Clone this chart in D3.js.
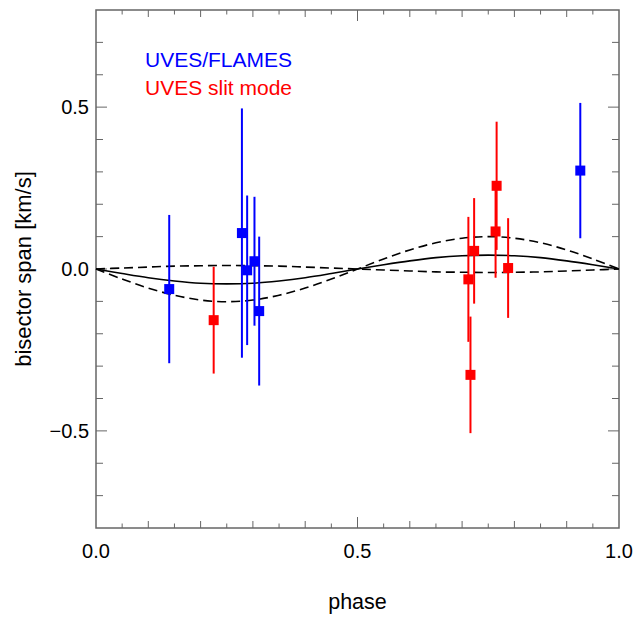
<!DOCTYPE html>
<html>
<head>
<meta charset="utf-8">
<script src="https://cdn.jsdelivr.net/npm/d3@7"></script>
<style>
  body { margin: 0; background: #fff; }
  svg { font-family: "Liberation Sans", Arial, Helvetica, sans-serif; }
</style>
</head>
<body>
<div id="chart"></div>
<script>
// UVES/FLAMES points (blue)
var flamesPhase = [0.140, 0.279, 0.289, 0.303, 0.312, 0.926];
var flamesSpan  = [-0.062, 0.111, -0.004, 0.024, -0.130, 0.304];
var flamesErr   = [0.229, 0.385, 0.231, 0.199, 0.230, 0.209];

// UVES slit mode points (red)
var slitPhase = [0.225, 0.712, 0.716, 0.723, 0.764, 0.766, 0.788];
var slitSpan  = [-0.158, -0.032, -0.327, 0.056, 0.116, 0.257, 0.003];
var slitErr   = [0.165, 0.193, 0.180, 0.163, 0.143, 0.198, 0.154];

// model curves, every 0.05 in phase
var curvePhase = [0, 0.05, 0.1, 0.15, 0.2, 0.25, 0.3, 0.35, 0.4, 0.45, 0.5,
                  0.55, 0.6, 0.65, 0.7, 0.75, 0.8, 0.85, 0.9, 0.95, 1.0];
var modelMid   = [0, -0.014, -0.027, -0.037, -0.044, -0.046, -0.044, -0.037, -0.027, -0.014, 0,
                  0.013, 0.025, 0.035, 0.041, 0.043, 0.041, 0.035, 0.025, 0.013, 0];
var modelHigh  = [0, -0.031, -0.059, -0.081, -0.096, -0.101, -0.096, -0.081, -0.059, -0.031, 0,
                  0.031, 0.059, 0.081, 0.095, 0.100, 0.095, 0.081, 0.059, 0.031, 0];
var modelLow   = [0, 0.003, 0.006, 0.009, 0.010, 0.011, 0.010, 0.009, 0.006, 0.003, 0,
                  -0.003, -0.006, -0.009, -0.010, -0.011, -0.010, -0.009, -0.006, -0.003, 0];

var xTickLabels = ["0.0", "0.5", "1.0"];
var yTickLabels = ["\u22120.5", "0.0", "0.5"];

function init() {
    var w = 643, h = 617;
    var margin = { top: 10, right: 24, bottom: 89, left: 96 };
    var innerWidth = w - margin.left - margin.right;
    var innerHeight = h - margin.top - margin.bottom;

    var svg = d3.select("#chart").append("svg")
        .attr("width", w)
        .attr("height", h);

    var g = svg.append("g")
        .attr("transform", `translate(${margin.left}, ${margin.top})`);

    var xScale = d3.scaleLinear().domain([0, 1]).range([0, innerWidth]);
    var yScale = d3.scaleLinear().domain([-0.8, 0.8]).range([innerHeight, 0]);

    var axisColor = "#666";

    // ticks on all four sides, drawn inward
    var xTicks = d3.range(1, 20).map(i => i * 0.05);
    var yTicks = d3.range(-7, 8).map(i => i * 0.1);

    function xLen(v) {
        var k = Math.round(v * 20);
        if (k % 10 === 0) return 11;
        if (k % 2 === 0) return 7;
        return 4.5;
    }
    function yLen(v) {
        var k = Math.round(v * 10);
        return k % 5 === 0 ? 11 : 7;
    }

    var ticks = g.append("g").attr("stroke", axisColor).attr("stroke-width", 1);
    xTicks.forEach(function (v) {
        var x = xScale(v);
        ticks.append("line").attr("x1", x).attr("x2", x)
            .attr("y1", innerHeight).attr("y2", innerHeight - xLen(v));
        ticks.append("line").attr("x1", x).attr("x2", x)
            .attr("y1", 0).attr("y2", xLen(v));
    });
    yTicks.forEach(function (v) {
        var y = yScale(v);
        ticks.append("line").attr("x1", 0).attr("x2", yLen(v))
            .attr("y1", y).attr("y2", y);
        ticks.append("line").attr("x1", innerWidth).attr("x2", innerWidth - yLen(v))
            .attr("y1", y).attr("y2", y);
    });

    // frame
    g.append("rect")
        .attr("x", 0).attr("y", 0)
        .attr("width", innerWidth).attr("height", innerHeight)
        .attr("fill", "none")
        .attr("stroke", axisColor)
        .attr("stroke-width", 1.5);

    // tick labels
    [0, 0.5, 1].forEach(function (v, i) {
        g.append("text")
            .attr("x", xScale(v))
            .attr("y", innerHeight + 30)
            .attr("text-anchor", "middle")
            .style("font-size", "20px")
            .text(xTickLabels[i]);
    });
    [-0.5, 0, 0.5].forEach(function (v, i) {
        g.append("text")
            .attr("x", -7)
            .attr("y", yScale(v) + 7)
            .attr("text-anchor", "end")
            .style("font-size", "20px")
            .text(yTickLabels[i]);
    });

    // axis titles
    g.append("text")
        .attr("x", innerWidth / 2)
        .attr("y", innerHeight + 81)
        .attr("text-anchor", "middle")
        .style("font-size", "21.5px")
        .text("phase");

    g.append("text")
        .attr("transform", "rotate(-90)")
        .attr("x", -innerHeight / 2)
        .attr("y", -margin.left + 31)
        .attr("text-anchor", "middle")
        .style("font-size", "22px")
        .text("bisector span [km/s]");

    // model curves
    var line = d3.line()
        .x(d => xScale(d[0]))
        .y(d => yScale(d[1]))
        .curve(d3.curveCatmullRom);

    g.append("path")
        .datum(d3.zip(curvePhase, modelMid))
        .attr("d", line)
        .attr("fill", "none")
        .attr("stroke", "#000")
        .attr("stroke-width", 1.6);

    [modelHigh, modelLow].forEach(function (vals) {
        g.append("path")
            .datum(d3.zip(curvePhase, vals))
            .attr("d", line)
            .attr("fill", "none")
            .attr("stroke", "#000")
            .attr("stroke-width", 1.6)
            .attr("stroke-dasharray", "9,5");
    });

    // data points with error bars
    function drawSeries(phase, span, err, color) {
        var data = d3.zip(phase, span, err);
        var grp = g.append("g");
        grp.selectAll("line")
            .data(data)
            .enter()
            .append("line")
            .attr("x1", d => xScale(d[0]))
            .attr("x2", d => xScale(d[0]))
            .attr("y1", d => yScale(d[1] + d[2]))
            .attr("y2", d => yScale(d[1] - d[2]))
            .attr("stroke", color)
            .attr("stroke-width", 2);
        grp.selectAll("rect")
            .data(data)
            .enter()
            .append("rect")
            .attr("x", d => xScale(d[0]) - 5)
            .attr("y", d => yScale(d[1]) - 5)
            .attr("width", 10)
            .attr("height", 10)
            .attr("fill", color);
    }
    drawSeries(flamesPhase, flamesSpan, flamesErr, "#0000ff");
    drawSeries(slitPhase, slitSpan, slitErr, "#ff0000");

    // legend
    g.append("text")
        .attr("x", 49)
        .attr("y", 57)
        .attr("fill", "#0000ff")
        .style("font-size", "21px")
        .text("UVES/FLAMES");
    g.append("text")
        .attr("x", 49)
        .attr("y", 85)
        .attr("fill", "#ff0000")
        .style("font-size", "21px")
        .text("UVES slit mode");
}

window.onload = init;
</script>
</body>
</html>
